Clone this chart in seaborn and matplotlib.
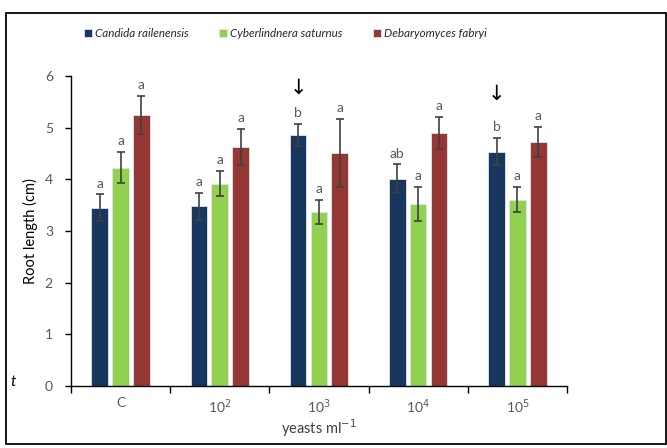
import matplotlib
matplotlib.use("Agg")
import matplotlib.pyplot as plt
import seaborn as sns
import pandas as pd
import numpy as np
from matplotlib.patches import Rectangle
from matplotlib.container import BarContainer

categories = ["C", "10$^{2}$", "10$^{3}$", "10$^{4}$", "10$^{5}$"]
species = ["Candida railenensis", "Cyberlindnera saturnus", "Debaryomyces fabryi"]
candida = [3.45, 3.48, 4.86, 4.01, 4.54]
cyber = [4.23, 3.92, 3.37, 3.52, 3.61]
debary = [5.25, 4.62, 4.52, 4.90, 4.72]
candida_err = [0.26, 0.26, 0.22, 0.28, 0.26]
cyber_err = [0.30, 0.25, 0.23, 0.33, 0.24]
debary_err = [0.37, 0.35, 0.66, 0.31, 0.29]
candida_lab = ["a", "a", "b", "ab", "b"]
cyber_lab = ["a", "a", "a", "a", "a"]
debary_lab = ["a", "a", "a", "a", "a"]
arrow_cats = [2, 4]
arrow_y = [5.78, 5.66]
colors = ["#17375E", "#92D050", "#953735"]

sns.set_style("white")
plt.rcParams['font.family'] = ['Lato', 'DejaVu Sans']

df = pd.DataFrame({
    "cat": categories * 3,
    "species": sum([[s] * 5 for s in species], []),
    "value": candida + cyber + debary,
})
errs = [candida_err, cyber_err, debary_err]
vals = [candida, cyber, debary]
labs = [candida_lab, cyber_lab, debary_lab]

fig = plt.figure(figsize=(6.67, 4.48), dpi=100)
ax = fig.add_axes([0.1064, 0.1384, 0.7436, 0.6916])
sns.barplot(data=df, x="cat", y="value", hue="species", palette=colors,
            width=0.63, gap=0.2, ax=ax, edgecolor="#dfe6ee", linewidth=0.6,
            saturation=1, errorbar=None, legend=True)

gray = "#595959"
bars = [c for c in ax.containers if isinstance(c, BarContainer)]
for i, cont in enumerate(bars):
    xs = [b.get_x() + b.get_width() / 2 for b in cont]
    ax.errorbar(xs, vals[i], yerr=errs[i], fmt="none", ecolor="#404040",
                elinewidth=1.2, capsize=3, capthick=1.2)
    for j, x in enumerate(xs):
        ax.annotate(labs[i][j], (x, vals[i][j] + errs[i][j]), xytext=(0, 3.5),
                    textcoords="offset points", ha="center", va="bottom",
                    fontsize=10, color=gray)
    if i == 0:
        for j, ay in zip(arrow_cats, arrow_y):
            ax.text(xs[j], ay, "↓", ha="center", va="center",
                    fontsize=15, color="black", family=["DejaVu Sans"])

ax.set_xlim(-0.5, 4.5)
ax.set_ylim(0, 6)
ax.set_yticks(range(0, 7))
ax.set_xticks([-0.5, 0.5, 1.5, 2.5, 3.5, 4.5])
ax.set_xticklabels([])
ax.set_xticks(range(5), minor=True)
ax.set_xticklabels(categories, minor=True)
ax.tick_params(axis="x", which="major", length=5, width=1, color="black", direction="out", bottom=True)
ax.tick_params(axis="x", which="minor", length=0, pad=8, labelsize=10, labelcolor=gray)
ax.tick_params(axis="y", length=4, width=1, color="black", direction="out", left=True,
               labelsize=10, labelcolor=gray, pad=9)
for s in ["top", "right"]:
    ax.spines[s].set_visible(False)
for s in ["left", "bottom"]:
    ax.spines[s].set_color("black")
    ax.spines[s].set_linewidth(1)
ax.set_xlabel("yeasts ml$^{-1}$", fontsize=10.5, color="#404040", labelpad=1)
ax.set_ylabel("Root length (cm)", fontsize=10.5, color="black", labelpad=5)

leg = ax.legend(loc="upper center", ncol=3, frameon=False,
                handlelength=0.65, handleheight=0.65, handletextpad=0.3,
                columnspacing=2.6, prop={"style": "italic", "size": 8.4})
leg.set_bbox_to_anchor((0.428, 0.96), transform=fig.transFigure)
for t in leg.get_texts():
    t.set_color("#262626")

fig.patches.append(Rectangle((6 / 667, 1 - 444 / 448), 660 / 667, 431 / 448,
                             transform=fig.transFigure, fill=False,
                             edgecolor="black", linewidth=1.3))
fig.text(10 / 667, 1 - 386 / 448, "t", fontsize=11, style="italic", color="black")

fig.savefig("out.png", dpi=100)
